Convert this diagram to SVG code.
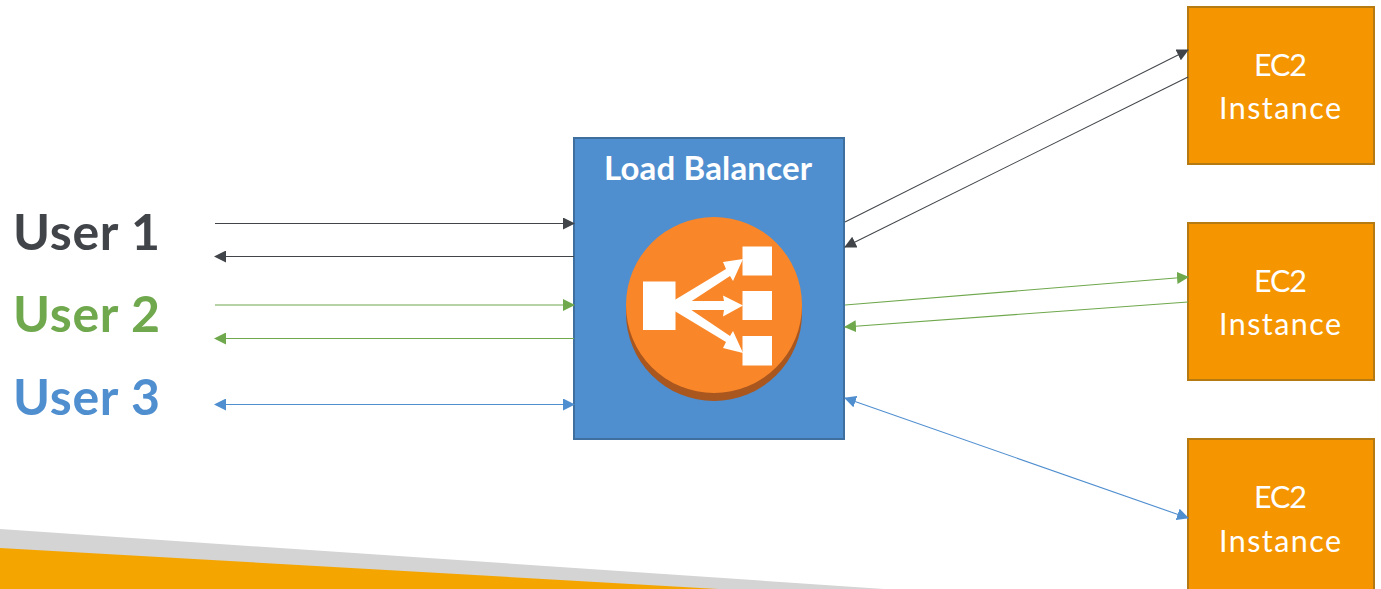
<svg xmlns="http://www.w3.org/2000/svg" width="1381" height="589" viewBox="0 0 1381 589">
  <style>
    text { font-family: Lato, "Liberation Sans", sans-serif; }
    .user { font-size: 50px; font-weight: 700; }
    .ec2 { fill: #f59500; stroke: #b67a12; stroke-width: 2; }
    .ec2t { fill: #fff; font-size: 30.5px; }
    .c { fill: none; stroke-width: 1.1; }
    .k { stroke: #414549; } .g { stroke: #6fa84d; } .b { stroke: #4f8ecf; }
  </style>
  <defs>
    <marker id="ak" viewBox="0 0 12 12" refX="11" refY="6" markerUnits="userSpaceOnUse" markerWidth="12" markerHeight="12" orient="auto-start-reverse"><path d="M0 0L12 6L0 12Z" fill="#414549"/></marker>
    <marker id="ag" viewBox="0 0 12 12" refX="11" refY="6" markerUnits="userSpaceOnUse" markerWidth="12" markerHeight="12" orient="auto-start-reverse"><path d="M0 0L12 6L0 12Z" fill="#6fa84d"/></marker>
    <marker id="ab" viewBox="0 0 12 12" refX="11" refY="6" markerUnits="userSpaceOnUse" markerWidth="12" markerHeight="12" orient="auto-start-reverse"><path d="M0 0L12 6L0 12Z" fill="#4f8ecf"/></marker>
  </defs>
  <rect width="1381" height="589" fill="#fff"/>
  <g id="footer">
    <polygon points="0,529 884,589 0,589" fill="#d4d4d4"/>
    <polygon points="0,548 718,589 0,589" fill="#f5a500"/>
  </g>
  <g id="user1"><text class="user" x="13" y="250" fill="#414549" textLength="147">User 1</text></g>
  <g id="user2"><text class="user" x="13" y="332" fill="#6fa84d" textLength="147">User 2</text></g>
  <g id="user3"><text class="user" x="13" y="415" fill="#4f8ecf" textLength="147">User 3</text></g>
  <g id="load-balancer">
    <rect x="574" y="138" width="270" height="301" fill="#4f8ecf" stroke="#3f6f9f" stroke-width="2"/>
    <text x="604" y="180" fill="#fff" font-size="33" font-weight="700" textLength="208">Load Balancer</text>
    <circle cx="714" cy="313" r="88" fill="#a9561f"/>
    <circle cx="714" cy="305" r="88" fill="#f9872a"/>
    <g fill="#fff" stroke="none">
      <rect x="643" y="281.5" width="32.5" height="48.5"/>
      <rect x="742.5" y="246.5" width="29.5" height="29"/>
      <rect x="742.5" y="291" width="29.5" height="29"/>
      <rect x="742.5" y="336" width="29.5" height="29.5"/>
      <polygon points="673,301 726,269 723,262 743,259 733,281 730,276 678,310"/>
      <polygon points="675,301 724,301 723,295.5 743,305.5 723,316.5 724,310 675,310"/>
      <polygon points="673,310 678,301 730,336 733,331 743,353 723,348 726,342"/>
    </g>
  </g>
  <g id="ec2-1"><rect class="ec2" x="1188" y="7" width="186" height="157"/><text class="ec2t" x="1254" y="76" textLength="53">EC2</text><text class="ec2t" x="1219" y="119" textLength="122">Instance</text></g>
  <g id="ec2-2"><rect class="ec2" x="1188" y="223" width="186" height="157"/><text class="ec2t" x="1254" y="292" textLength="53">EC2</text><text class="ec2t" x="1219" y="335" textLength="122">Instance</text></g>
  <g id="ec2-3"><rect class="ec2" x="1188" y="439" width="186" height="158"/><text class="ec2t" x="1254" y="508" textLength="53">EC2</text><text class="ec2t" x="1219" y="552" textLength="122">Instance</text></g>
  <g id="connectors">
    <path class="c k" d="M215 223.5H574" marker-end="url(#ak)"/>
    <path class="c k" d="M574 256.5H215" marker-end="url(#ak)"/>
    <path class="c g" d="M215 305H574" marker-end="url(#ag)"/>
    <path class="c g" d="M574 338.5H215" marker-end="url(#ag)"/>
    <path class="c b" d="M215 404.5H574" marker-start="url(#ab)" marker-end="url(#ab)"/>
    <path class="c k" d="M845 222L1188 50" marker-end="url(#ak)"/>
    <path class="c k" d="M1188 77L845 247" marker-end="url(#ak)"/>
    <path class="c g" d="M845 305L1188 277" marker-end="url(#ag)"/>
    <path class="c g" d="M1188 302L845 327" marker-end="url(#ag)"/>
    <path class="c b" d="M845 398L1188 518" marker-start="url(#ab)" marker-end="url(#ab)"/>
  </g>
</svg>
